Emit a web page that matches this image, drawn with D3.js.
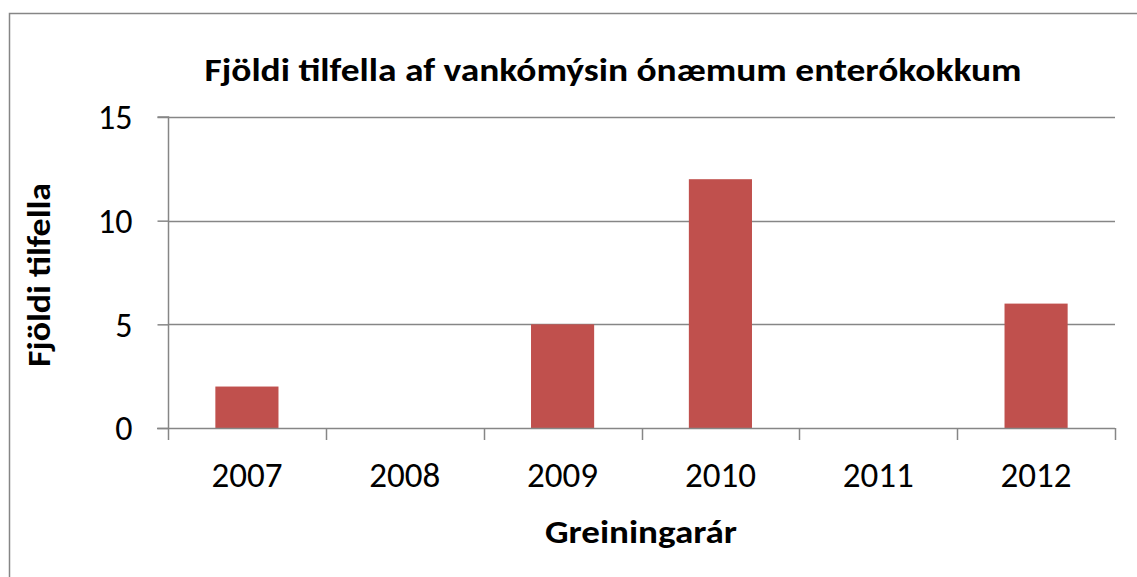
<!DOCTYPE html>
<html>
<head>
<meta charset="utf-8">
<script src="https://cdn.jsdelivr.net/npm/d3@7"></script>
<style>
  html, body { margin: 0; padding: 0; background: #fff; }
  svg { display: block; font-family: Carlito, Lato, "Open Sans", sans-serif; }
</style>
</head>
<body>
<svg id="chart" width="1137" height="577"></svg>
<script>
// Cases of vancomycin-resistant enterococci per year of diagnosis
const years = ["2007", "2008", "2009", "2010", "2011", "2012"];
const cases = [2, 0, 5, 12, 0, 6];
const yTicks = [0, 5, 10, 15];

const titleText = "Fjöldi tilfella af vankómýsin ónæmum enterókokkum";
const yTitleText = "Fjöldi tilfella";
const xTitleText = "Greiningarár";

const svg = d3.select("#chart");
const plot = { left: 168, right: 1115, top: 117, bottom: 428 };
const axisColor = "#868686";

// outer chart frame
svg.append("rect")
  .attr("x", 9.5).attr("y", 13.5)
  .attr("width", 1140).attr("height", 580)
  .attr("fill", "#fff").attr("stroke", axisColor).attr("stroke-width", 1.5);

const x = d3.scaleBand().domain(years).range([plot.left, plot.right]).paddingInner(0.6).paddingOuter(0.3);
const xCat = d3.scaleBand().domain(years).range([plot.left, plot.right]);
const y = d3.scaleLinear().domain([0, 15]).range([plot.bottom, plot.top]);

// horizontal gridlines
svg.append("g").selectAll("line").data(yTicks.filter(d => d > 0)).join("line")
  .attr("x1", plot.left).attr("x2", plot.right)
  .attr("y1", d => Math.round(y(d)) + 0.5).attr("y2", d => Math.round(y(d)) + 0.5)
  .attr("stroke", axisColor).attr("stroke-width", 1.5);

// bars
svg.append("g").selectAll("rect").data(years).join("rect")
  .attr("x", d => x(d))
  .attr("width", x.bandwidth())
  .attr("y", (d, i) => y(cases[i]))
  .attr("height", (d, i) => y(0) - y(cases[i]))
  .attr("fill", "#C0504D");

// y axis
const yAxis = d3.axisLeft(y).tickValues(yTicks).tickSize(11).tickPadding(25).tickFormat(d3.format("d"));
const gy = svg.append("g").attr("transform", `translate(${plot.left + 0.5},0)`).call(yAxis);
gy.select(".domain").attr("stroke", axisColor).attr("stroke-width", 1.5).attr("d", `M-11,${plot.top}H0V${plot.bottom}`);
gy.selectAll(".tick line").attr("stroke", axisColor).attr("stroke-width", 1.5);
gy.selectAll(".tick text").attr("font-size", 34).attr("fill", "#000").attr("dy", "0.35em")
  .style("font-family", "Carlito, Lato, sans-serif");

// x axis with ticks between categories
const boundaries = years.map(d => xCat(d)).concat([plot.right]);
const gx = svg.append("g");
gx.append("line")
  .attr("x1", plot.left - 11).attr("x2", plot.right)
  .attr("y1", plot.bottom + 0.5).attr("y2", plot.bottom + 0.5)
  .attr("stroke", axisColor).attr("stroke-width", 1.5);
gx.selectAll("line.tk").data(boundaries).join("line").attr("class", "tk")
  .attr("x1", d => Math.round(d) + 0.5).attr("x2", d => Math.round(d) + 0.5)
  .attr("y1", plot.bottom).attr("y2", plot.bottom + 12)
  .attr("stroke", axisColor).attr("stroke-width", 1.5);
gx.selectAll("text").data(years).join("text")
  .attr("x", d => xCat(d) + xCat.bandwidth() / 2)
  .attr("y", 487)
  .attr("text-anchor", "middle")
  .attr("font-size", 34)
  .attr("textLength", 71).attr("lengthAdjust", "spacingAndGlyphs")
  .text(d => d);

// titles
svg.append("text").attr("x", 613).attr("y", 81)
  .attr("text-anchor", "middle").attr("font-size", 33).attr("font-weight", "bold")
  .attr("textLength", 817).attr("lengthAdjust", "spacingAndGlyphs")
  .text(titleText);

svg.append("text").attr("transform", "translate(50,275) rotate(-90)")
  .attr("text-anchor", "middle").attr("font-size", 33).attr("font-weight", "bold")
  .attr("textLength", 184).attr("lengthAdjust", "spacingAndGlyphs")
  .text(yTitleText);

svg.append("text").attr("x", 641).attr("y", 543)
  .attr("text-anchor", "middle").attr("font-size", 33).attr("font-weight", "bold")
  .attr("textLength", 192).attr("lengthAdjust", "spacingAndGlyphs")
  .text(xTitleText);
</script>
</body>
</html>
